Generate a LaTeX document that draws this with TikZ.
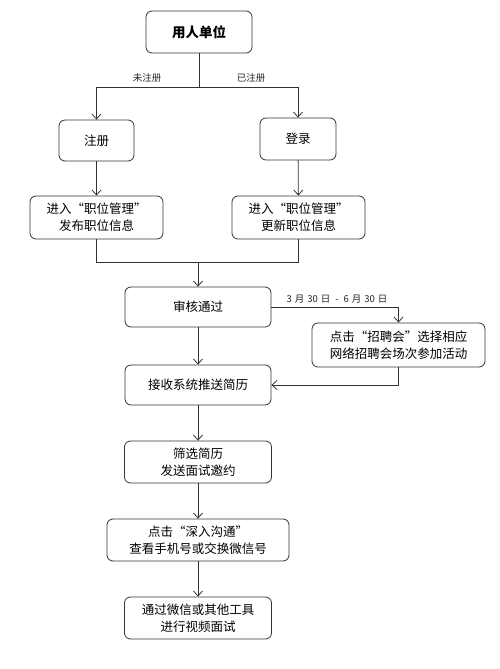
\documentclass[tikz,border=0pt]{standalone}
\usepackage{fontspec}
\newfontfamily\cjk{Noto Sans CJK SC}
\usetikzlibrary{arrows.meta,positioning}
\tikzset{
  box/.style={draw=black!80, line width=0.8pt, rounded corners=6pt, align=center,
    font=\cjk\fontsize{12.5}{17}\selectfont, inner sep=2pt},
  line/.style={draw=black!80, line width=0.8pt},
  arr/.style={line, -{Straight Barb[length=5pt,width=9pt]}},
  lbl/.style={font=\cjk\fontsize{9.5}{11}\selectfont, text=black!85, inner sep=1pt}
}
\begin{document}
\begin{tikzpicture}[x=1pt,y=-1pt]
\useasboundingbox[fill=white] (0,0) rectangle (500,669);
\node[box, minimum width=106pt, minimum height=42pt, font=\cjk\bfseries\fontsize{13.5}{16}\selectfont] (A) at (199,32) {用人单位};
\node[box, minimum width=75pt, minimum height=41pt] (B) at (96.5,140.5) {注册};
\node[box, minimum width=76pt, minimum height=42pt] (C) at (298,139) {登录};
\node[box, minimum width=133pt, minimum height=43pt] (D) at (96.5,217.5) {进入“职位管理”\\发布职位信息};
\node[box, minimum width=133pt, minimum height=43pt] (E) at (298.5,217.5) {进入“职位管理”\\更新职位信息};
\node[box, minimum width=146pt, minimum height=40pt] (F) at (198,307) {审核通过};
\node[box, minimum width=173pt, minimum height=44pt] (G) at (398.5,345) {点击“招聘会”选择相应\\网络招聘会场次参加活动};
\node[box, minimum width=146pt, minimum height=40pt] (H) at (198,385) {接收系统推送简历};
\node[box, minimum width=147pt, minimum height=42pt] (I) at (198,462) {筛选简历\\发送面试邀约};
\node[box, minimum width=182pt, minimum height=42pt] (J) at (198,540) {点击“深入沟通”\\查看手机号或交换微信号};
\node[box, minimum width=147pt, minimum height=42pt] (K) at (198,618) {通过微信或其他工具\\进行视频面试};

\coordinate (split) at (199,87);
\coordinate (merge) at (198,262);

\draw[line] (A.south) -- (split);
\draw[arr] (split) -| (B.north);
\draw[arr] (split) -| (C.north);
\node[lbl] (l1) at (147,78) {未注册};
\node[lbl] (l2) at (251,78) {已注册};

\draw[arr] (B) -- (D);
\draw[arr] (C) -- (E);
\draw[line] (D.south) |- (merge);
\draw[line] (E.south) |- (merge);
\draw[arr] (merge) -- (F.north);

\draw[arr] (F.east) -| (G.north);
\node[lbl] (l3) at (337,299) {3\hspace{3pt}月\hspace{3pt}30\hspace{3pt}日\hspace{5pt}-\hspace{5pt}6\hspace{3pt}月\hspace{3pt}30\hspace{3pt}日};
\draw[arr] (G.south) |- (H.east);

\draw[arr] (F) -- (H);
\draw[arr] (H) -- (I);
\draw[arr] (I) -- (J);
\draw[arr] (J) -- (K);
\end{tikzpicture}
\end{document}
